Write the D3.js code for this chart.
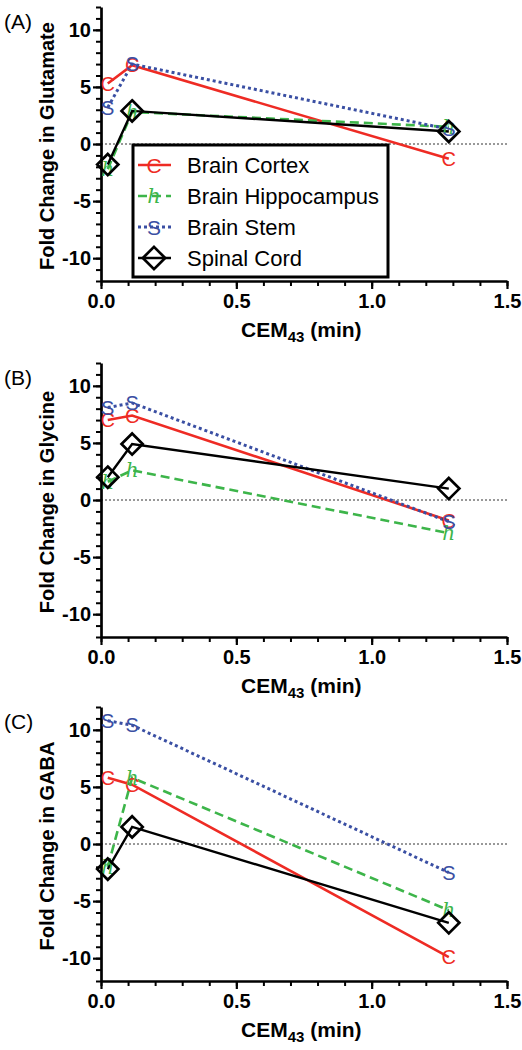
<!DOCTYPE html>
<html><head><meta charset="utf-8">
<script src="https://cdn.jsdelivr.net/npm/d3@7"></script>
<style>
body{margin:0;background:#fff;}
svg{display:block;font-family:"Liberation Sans",Arial,sans-serif;}
</style></head>
<body>
<svg id="chart" width="522" height="1050"></svg>
<script>
// ---- data ----
const xVals = [0.025, 0.115, 1.285];
const seriesNames = ["Brain Cortex", "Brain Hippocampus", "Brain Stem", "Spinal Cord"];
const xTickVals = [0, 0.5, 1.0, 1.5];
const xTickLabels = ["0.0", "0.5", "1.0", "1.5"];
const yTickVals = [-10, -5, 0, 5, 10];
const yTickLabels = ["-10", "-5", "0", "5", "10"];
const panelLetters = ["(A)", "(B)", "(C)"];
const panelTitles = ["Fold Change in Glutamate", "Fold Change in Glycine", "Fold Change in GABA"];

const gluCortex = [5.3, 6.9, -1.3];
const gluHippo  = [-2.2, 2.8, 1.5];
const gluStem   = [3.2, 7.0, 1.3];
const gluSpinal = [-1.8, 2.9, 1.1];

const glyCortex = [7.0, 7.4, -1.8];
const glyHippo  = [1.6, 2.6, -2.9];
const glyStem   = [8.1, 8.5, -1.9];
const glySpinal = [2.0, 4.9, 1.0];

const gabaCortex = [5.8, 5.2, -9.9];
const gabaHippo  = [-2.0, 5.8, -5.8];
const gabaStem   = [10.8, 10.4, -2.5];
const gabaSpinal = [-2.2, 1.5, -6.9];

// ---- layout / style ----
const svg = d3.select("#chart");
const panels = [
  {top: 7, bottom: 281, data: [gluCortex, gluHippo, gluStem, gluSpinal], legend: true},
  {top: 363, bottom: 637, data: [glyCortex, glyHippo, glyStem, glySpinal], legend: false},
  {top: 707, bottom: 981, data: [gabaCortex, gabaHippo, gabaStem, gabaSpinal], legend: false}
];
const styles = [
  {color: "#ee2b24", dash: null, width: 2.6, marker: "C"},
  {color: "#3db54a", dash: "9,5", width: 2.6, marker: "h"},
  {color: "#3a4fa3", dash: "3,3", width: 3, marker: "S"},
  {color: "#000000", dash: null, width: 2.4, marker: "D"}
];
const x = d3.scaleLinear().domain([0, 1.5]).range([101, 507]);

function drawMarker(g, s, cx, cy, size) {
  size = size || 20;
  if (s.marker === "D") {
    const r = size * 0.53;
    g.append("path")
      .attr("d", `M${cx},${cy-r}L${cx+r},${cy}L${cx},${cy+r}L${cx-r},${cy}Z`)
      .attr("fill", "none").attr("stroke", "#000").attr("stroke-width", 2.7);
  } else if (s.marker === "h") {
    g.append("text").attr("x", cx).attr("y", cy + size * 0.35)
      .attr("text-anchor", "middle")
      .attr("font-family", "'DejaVu Serif', serif").attr("font-style", "italic")
      .attr("font-size", size).attr("fill", s.color).text("h");
  } else {
    g.append("text").attr("x", cx).attr("y", cy + size * 0.36)
      .attr("text-anchor", "middle")
      .attr("font-size", size).attr("fill", s.color).text(s.marker);
  }
}

panels.forEach((p, pi) => {
  const y = d3.scaleLinear().domain([-12, 12]).range([p.bottom, p.top]);
  const g = svg.append("g");

  // zero dotted line
  g.append("line").attr("x1", x(0)).attr("x2", x(1.5)).attr("y1", y(0)).attr("y2", y(0))
    .attr("stroke", "#333").attr("stroke-width", 1).attr("stroke-dasharray", "2,2");

  // minor ticks
  g.append("g").attr("transform", `translate(${x(0)},0)`)
    .call(d3.axisLeft(y).tickValues(d3.range(-12, 13, 1)).tickSize(5).tickSizeOuter(0).tickFormat(""))
    .call(a => { a.select(".domain").remove(); a.selectAll("line").attr("stroke-width", 2); });
  g.append("g").attr("transform", `translate(0,${p.bottom})`)
    .call(d3.axisBottom(x).tickValues(d3.range(0, 1.51, 0.1)).tickSize(5).tickSizeOuter(0).tickFormat(""))
    .call(a => { a.select(".domain").remove(); a.selectAll("line").attr("stroke-width", 2); });

  // major axes
  const ya = g.append("g").attr("transform", `translate(${x(0)},0)`)
    .call(d3.axisLeft(y).tickValues(yTickVals).tickSize(8).tickSizeOuter(0)
      .tickFormat((d, i) => yTickLabels[i]));
  const xa = g.append("g").attr("transform", `translate(0,${p.bottom})`)
    .call(d3.axisBottom(x).tickValues(xTickVals).tickSize(8).tickSizeOuter(0)
      .tickFormat((d, i) => xTickLabels[i]));
  [ya, xa].forEach(a => {
    a.select(".domain").attr("stroke-width", 2.7);
    a.selectAll(".tick line").attr("stroke-width", 2.2);
    a.selectAll("text").attr("font-size", 20).attr("font-weight", "bold")
      .attr("font-family", "'Liberation Sans', Arial, sans-serif").attr("fill", "#000");
  });
  ya.selectAll("text").attr("x", -10);
  xa.selectAll("text").attr("y", 13);

  // axis titles
  const xt = g.append("text").attr("x", x(0.74)).attr("y", p.bottom + 56)
    .attr("text-anchor", "middle").attr("font-size", 21).attr("font-weight", "bold");
  xt.append("tspan").text("CEM");
  xt.append("tspan").attr("font-size", 15).attr("dy", 5).text("43");
  xt.append("tspan").attr("dy", -5).text(" (min)");

  g.append("text").attr("transform", `translate(54,${(p.top + p.bottom) / 2 + 2}) rotate(-90)`)
    .attr("text-anchor", "middle").attr("font-size", 20).attr("font-weight", "bold")
    .text(panelTitles[pi]);

  g.append("text").attr("x", 4).attr("y", p.top + 22).attr("font-size", 21).text(panelLetters[pi]);

  // series lines
  const line = d3.line().x((d, i) => x(xVals[i])).y(d => y(d));
  p.data.forEach((vals, si) => {
    const s = styles[si];
    g.append("path").datum(vals).attr("d", line).attr("fill", "none")
      .attr("stroke", s.color).attr("stroke-width", s.width)
      .attr("stroke-dasharray", s.dash);
  });
  p.data.forEach((vals, si) => {
    vals.forEach((v, i) => drawMarker(g, styles[si], x(xVals[i]), y(v)));
  });

  if (p.legend) {
    const lg = g.append("g");
    const lx = 133, ly = 145, lw = 255, lh = 132;
    lg.append("rect").attr("x", lx).attr("y", ly).attr("width", lw).attr("height", lh)
      .attr("fill", "#fff").attr("stroke", "#000").attr("stroke-width", 3);
    seriesNames.forEach((name, si) => {
      const s = styles[si];
      const cy = ly + 20 + si * 31;
      lg.append("line").attr("x1", lx + 5).attr("x2", lx + 38).attr("y1", cy).attr("y2", cy)
        .attr("stroke", s.color).attr("stroke-width", s.width).attr("stroke-dasharray", s.dash);
      drawMarker(lg, s, lx + 21, cy, 21);
      lg.append("text").attr("x", lx + 54).attr("y", cy + 8).attr("font-size", 22).text(name);
    });
  }
});
</script>
</body></html>
